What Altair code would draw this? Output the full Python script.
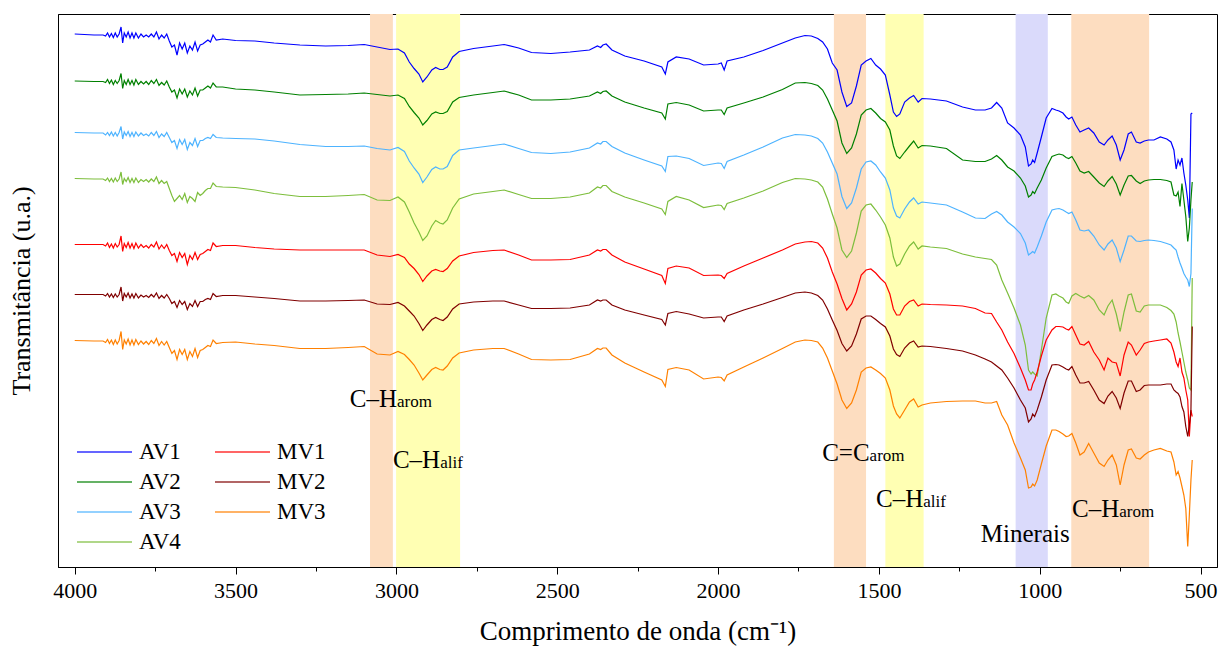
import altair as alt
import pandas as pd

# Wavenumber grid (cm-1) shared by every spectrum
WAVENUMBER = [
    4000, 3940, 3912,
    3904, 3898, 3892, 3886, 3880, 3874, 3868, 3862, 3856, 3851, 3846, 3840, 3834, 3828,
    3822, 3816, 3810, 3802, 3794, 3786, 3778, 3770, 3762, 3754, 3746, 3738, 3730, 3722,
    3714, 3706, 3698, 3690, 3682, 3674, 3666, 3658, 3650, 3642, 3634, 3626, 3618, 3610,
    3602, 3594, 3586, 3578, 3570, 3560, 3540,
    3500, 3440, 3380, 3300, 3220, 3150, 3100, 3060, 3020, 2995,
    2975, 2960, 2945, 2930, 2918, 2905, 2890, 2878, 2865, 2855, 2842, 2825, 2805,
    2760, 2700, 2665, 2620, 2580, 2520, 2460, 2400, 2375, 2365, 2358, 2348, 2330, 2290,
    2230, 2175, 2164, 2156, 2130, 2090, 2045, 2000, 1990, 1981, 1972, 1920, 1860, 1800, 1760,
    1730, 1710, 1690, 1675, 1660, 1645, 1630, 1615, 1600, 1585, 1570, 1555, 1540, 1525,
    1510, 1495, 1480, 1466, 1455, 1445, 1435, 1420, 1405, 1392, 1378, 1366, 1340,
    1290, 1240, 1200, 1170, 1150, 1134, 1118, 1100, 1080, 1060, 1045, 1035, 1027, 1022,
    1016, 1008, 995, 980, 962, 950, 940, 928, 918, 910, 900, 888, 875, 862, 848, 832, 815,
    800, 788, 775, 762, 750, 738, 725, 715, 700, 688, 675, 662, 645, 625, 605, 592, 583,
    576, 570, 564, 558, 552, 546, 540, 535, 530, 526,
]

# Stacked transmittance spectra (u.a., vertically offset)
AV1 = [
    566, 565, 565,
    564, 567, 563, 566.5, 562.5, 567, 563, 566, 573, 557, 567, 563, 568, 562, 567, 562, 567, 562,
    566, 563, 565, 563, 566, 563, 568, 561, 565, 562,
    566, 559, 553, 555, 545, 557, 551, 557, 547, 554, 550, 558, 549, 555, 556, 558, 560, 558, 565, 560, 561,
    559.5, 559, 557, 555, 554, 554.5, 555.5, 553, 550.5, 551,
    547, 538, 531.5, 526, 518, 523, 530, 532.5, 530.5, 530.5, 533, 543, 548.5,
    551.5, 554, 555.5, 552, 547.5, 546.5, 548, 550, 554, 552.5, 555, 556, 550, 544, 539, 533, 526, 538,
    543, 541, 535, 536, 537, 530, 539, 543, 549.5, 557, 562,
    564.5, 564, 561.5, 558, 551, 537, 530, 508, 493.5, 497, 514, 535, 539, 541.5, 535, 531, 525, 505,
    488, 483.5, 486, 498, 502, 504.5, 498, 501.5, 501,
    499, 493, 490, 490, 492, 497.5, 492, 477, 472, 465, 453, 434, 436, 440, 437.5, 447, 463, 482,
    491.5, 490, 489, 487, 483, 481, 483, 475, 468, 470, 472, 467, 458, 455, 460, 464, 455, 440, 450,
    466, 468, 458, 457, 459, 460, 460, 463, 461, 458, 450, 431, 440, 435, 442, 427, 415, 400, 382,
    486, 487,
]
AV2 = [
    519, 518.5, 518.5,
    517.5, 520.5, 516.5, 520, 515.5, 519.5, 516.5, 519.5, 526.5, 511.5, 519.5, 515.5, 520.5, 515.5,
    519.5, 515, 520.5, 515.5, 518.5, 516, 518.5, 515.5, 519.5, 516.5, 520.5, 514.5, 517.5, 515,
    519, 513, 508, 510, 502, 511, 506, 511, 503, 509, 505, 512, 504, 510, 510, 512, 514, 512, 517, 513, 513,
    511, 510, 508, 505, 505.5, 506, 507, 505.5, 504, 505,
    501.5, 493.5, 487.5, 482, 475, 479.5, 486, 488, 486.5, 486.5, 488.5, 498, 502.5,
    505, 507.5, 509, 505, 500, 500, 501, 504, 508, 506.5, 508.5, 509, 504, 498, 492, 487, 481, 496,
    497.5, 495, 489, 490, 490, 485.5, 492, 497, 503, 510.5, 517,
    517.5, 516.5, 514.5, 510, 501, 490, 479, 457, 446.5, 452, 466, 485, 490, 491.5, 487, 481.5, 478,
    470, 454, 444, 441.5, 448, 454, 459, 452, 454.5, 454,
    451.5, 440, 438.5, 438.5, 441, 444.5, 440, 433, 429, 422, 414, 403, 405, 408.5, 406.5, 412, 420,
    432, 443.5, 445, 446, 445, 442.5, 441.5, 443.5, 437, 429, 427, 428.5, 423, 417, 413.5, 419, 423.5,
    416, 405, 415, 424, 424.5, 419, 416.5, 419, 420, 420.5, 420.5, 419.5, 418, 405, 404, 408, 393.5,
    416.5, 400, 383.5, 358.5, 372, 400, 418,
]
AV3 = [
    467.5, 467, 467,
    465, 467.5, 464.5, 468, 464, 467.5, 464, 467.5, 473.5, 461, 468, 464.5, 468.5, 463.5, 467.5,
    463.5, 468, 464, 467, 464.5, 466, 464, 467.5, 464.5, 468.5, 462.5, 466, 463.5,
    467.5, 462.5, 457.5, 459.5, 451.5, 460.5, 455.5, 460.5, 450.5, 457.5, 454.5, 461.5, 453.5, 459.5,
    459.5, 461.5, 462.5, 461.5, 465.5, 462.5, 462,
    461.5, 461, 459, 455.5, 453.5, 453.5, 454, 451.5, 450, 452.5,
    448.5, 439, 432, 426, 417.5, 423, 430.5, 433, 431, 431, 433.5, 444.5, 450,
    452, 454.5, 456, 451.5, 447.5, 446.5, 448, 452, 457, 456, 458.5, 458.5, 453.5, 447, 440, 434,
    428.5, 443.5, 444, 441.5, 434.5, 437, 436.5, 431.5, 438.5, 445, 453, 462, 465.5,
    465, 464, 461.5, 457, 448, 437, 426, 403.5, 391.5, 397, 412, 431, 438, 439, 435, 428, 422, 410,
    392, 384, 382, 391, 398, 402, 396, 398, 397,
    395, 388, 382, 381.5, 386, 388.5, 385, 378, 373, 366.5, 357, 345, 347, 348.5, 347, 353, 364, 378,
    390, 391, 391.5, 390, 388, 386.5, 388, 380, 370, 369, 370, 364, 355, 350, 356, 360, 352, 338.5,
    350, 364, 364, 359, 358.5, 359.5, 360, 359.5, 358.5, 356.5, 355, 352, 350, 343, 337, 332, 326.5,
    323, 320, 313.5, 326.5, 391.5,
]
AV4 = [
    421.5, 421, 421,
    419.5, 422, 418.5, 421.5, 418, 422, 418.5, 421, 428, 415.5, 421.5, 418.5, 422.5, 417.5, 421.5,
    417.5, 422, 417.5, 420.5, 418.5, 420.5, 418, 421, 418.5, 423, 416.5, 419.5, 416.5,
    418.5, 411.5, 404.5, 398.5, 401.5, 404.5, 400.5, 406.5, 397.5, 403.5, 401.5, 398.5, 407.5, 404.5,
    406.5, 409.5, 411.5, 411.5, 417, 413.5, 413,
    412.5, 410, 406.5, 403.5, 403.5, 404.5, 405.5, 400, 399.5, 403,
    398, 388, 377, 368, 359.5, 364, 374, 379.5, 377, 376, 380, 392, 401,
    406, 408.5, 410, 405.5, 401.5, 401.5, 403, 407, 413, 412, 414.5, 414.5, 408.5, 403, 397, 391,
    385.5, 398.5, 403.5, 400, 392.5, 395, 394.5, 390.5, 396.5, 402, 409, 417.5, 421.5,
    421, 420, 418, 413, 401, 386, 372, 350, 342.5, 349, 367, 389, 395, 396, 390, 383, 375, 362,
    343, 334, 336, 346, 354, 358, 351, 354, 353,
    351.5, 346, 343, 341.5, 340.5, 335, 320, 307, 292, 275, 255, 230, 226, 228, 226, 224, 250, 282,
    305, 306, 304, 302, 298, 296.5, 304, 306.5, 304, 302, 304.5, 300, 290, 285, 294, 300, 286, 268.5,
    288, 305, 306, 289, 288, 294, 295, 295, 295, 292.5, 289.5, 286, 278, 267, 258, 248, 238, 228,
    220, 212, 210, 322,
]
MV1 = [
    355.5, 355.5, 355.5,
    354, 357, 352.5, 356, 352, 356.5, 353, 355.5, 364, 348.5, 356.5, 352.5, 357.5, 352, 356.5, 351.5,
    357, 352, 355.5, 352.5, 354.5, 352, 355.5, 353, 358, 351, 355, 351.5,
    355.5, 349.5, 344.5, 346.5, 338.5, 347.5, 342.5, 346.5, 335.5, 344.5, 340.5, 347.5, 340.5, 345.5,
    346.5, 348.5, 350.5, 349.5, 357, 353.5, 354.5,
    354.5, 352.5, 351, 350, 350, 350, 350, 345, 343.5, 345.5,
    342.5, 336, 331.5, 325.5, 318.5, 324, 329, 330.5, 329, 328.5, 331.5, 339, 344,
    347.5, 349.5, 350, 345, 340, 340, 340.5, 345, 350, 349, 350.5, 350.5, 345, 338, 331, 324.5,
    316.5, 331.5, 334, 332, 324.5, 325, 324.5, 321.5, 326.5, 334, 342, 350, 356,
    358, 358.5, 357, 352, 342, 328, 316, 301.5, 290, 296, 308, 325, 330, 331, 327, 321.5, 317, 306,
    291, 285, 285, 294, 298.5, 300, 294, 296, 295.5,
    295, 294, 291.5, 287, 286.5, 278, 270, 258, 246.5, 232, 220, 210, 210, 216, 220, 228, 244, 260,
    270, 273.5, 273.5, 273, 271, 270, 273.5, 265, 256, 255, 258.5, 248, 240, 230, 242, 238, 237, 224,
    245, 258, 255, 245, 250, 256.5, 258, 259, 260, 261, 257, 248, 238, 233.5, 242, 228, 222, 210,
    200, 163.5, 190, 183.5,
]
MV2 = [
    305.5, 305.5, 305.5,
    304, 306.5, 303, 306, 302.5, 306, 303, 305.5, 313, 299, 306.5, 303, 307, 302, 306, 302, 306.5,
    302, 305, 303, 304.5, 302.5, 305.5, 303, 307, 301.5, 304.5, 302,
    305.5, 301.5, 296.5, 298.5, 292.5, 299.5, 295.5, 298.5, 290.5, 296.5, 293.5, 299.5, 293.5, 298.5,
    298.5, 300.5, 301.5, 300.5, 306.5, 303.5, 304.5,
    304.5, 303, 301.5, 299, 299, 299.5, 300, 296, 295.5, 297.5,
    294, 289, 284, 276.5, 269.5, 275, 280.5, 282.5, 280.5, 279.5, 283, 291, 296,
    298, 299, 299, 295, 291.5, 291.5, 292, 295, 300, 299, 300, 300, 295, 290, 285, 280.5, 275, 286.5,
    288.5, 286, 282, 283, 283, 278.5, 284, 290, 296, 302.5, 307,
    308, 307, 304.5, 300, 291, 280, 269.5, 256.5, 249, 254, 266, 281, 284, 284, 280.5, 276.5, 273,
    264, 251, 245.5, 243.5, 252, 257, 259, 253, 254, 253.5,
    251.5, 249, 245, 241, 238, 234, 230, 222, 212, 200, 192, 178, 181, 186, 183.5, 190, 203, 220,
    235, 235.5, 235, 233, 231, 230, 233.5, 225, 217, 217, 218.5, 210, 200, 196.5, 204, 208.5, 202,
    191.5, 207, 219, 219, 208.5, 210, 214.5, 215, 215, 215, 216, 216, 210, 208, 206.5, 203, 193.5,
    188, 173.5, 163.5, 175, 190, 273.5,
]
MV3 = [
    259.5, 259, 259,
    257.5, 260.5, 256.5, 260, 255.5, 260, 256, 259.5, 268.5, 250.5, 260, 256, 261, 255, 260, 255,
    260.5, 255.5, 259, 256, 258.5, 255.5, 259.5, 256.5, 261.5, 254.5, 258.5, 255,
    258.5, 252.5, 246.5, 249.5, 240.5, 250.5, 245.5, 250.5, 240.5, 248.5, 243.5, 251.5, 242.5, 249.5,
    250.5, 252.5, 254.5, 253.5, 260, 256.5, 257.5,
    258, 256, 254.5, 251.5, 251.5, 252.5, 253.5, 246, 245, 248.5,
    245.5, 240.5, 235, 227, 220, 225, 230.5, 232.5, 230.5, 230, 234, 242, 247,
    250, 251.5, 251.5, 246, 240.5, 240, 240.5, 246, 251.5, 250.5, 252, 252, 245, 237, 228, 220,
    213.5, 230.5, 232.5, 230, 221, 223, 222.5, 219, 225, 233, 242, 251.5, 258,
    260, 259.5, 258, 252, 242, 229, 216, 200, 191.5, 197, 210, 228, 232, 233, 230, 226.5, 222, 210,
    194, 186, 182, 190, 198, 201, 193, 195, 197,
    198.5, 199, 199, 197, 197, 198.5, 185, 175, 157, 142, 130, 112, 113, 116, 114, 120, 136, 154,
    170, 170, 168.5, 166, 163.5, 164, 166.5, 157, 145, 148, 156.5, 147, 137, 133.5, 140, 145, 135,
    115, 135, 150, 151, 142, 141, 145, 148, 150, 151.5, 149, 148, 138, 125, 128.5, 122, 113.5, 105,
    91.5, 53.5, 85, 120, 140,
]

SERIES = ["AV1", "AV2", "AV3", "AV4", "MV1", "MV2", "MV3"]
SPECTRA = [AV1, AV2, AV3, AV4, MV1, MV2, MV3]
LINE_COLORS = ["#0000FF", "#008000", "#4DB3FF", "#7DBE3C", "#FF0000", "#800000", "#FF8000"]

# Highlighted absorption regions (cm-1)
BAND_START = [3082, 3001, 1640, 1480, 1075, 902]
BAND_END = [3011, 2802, 1540, 1361, 975, 660]
BAND_KIND = ["arom", "alif", "arom", "alif", "min", "arom"]
BAND_KINDS = ["arom", "alif", "min"]
BAND_COLORS = ["#FDDDC0", "#FFFFB3", "#DADAFB"]

# Band annotations: main text + smaller suffix, anchored where the two meet
NOTE_WN = [2998, 2864, 1529, 1362, 907, 753]
NOTE_V = [193, 132, 139, 93, 58, 83]
NOTE_MAIN = ["C\u2013H", "C\u2013H", "C=C", "C\u2013H", "Minerais", "C\u2013H"]
NOTE_SUB = ["arom", "alif", "arom", "alif", "", "arom"]

TICK_VALUES = [4000, 3750, 3500, 3250, 3000, 2750, 2500, 2250, 2000, 1750, 1500, 1250, 1000, 750, 500]

for s in SPECTRA:
    assert len(s) == len(WAVENUMBER)

FONT = "Liberation Serif"

spectra = pd.DataFrame(
    [
        {"wn": w, "v": v, "amostra": name}
        for name, values in zip(SERIES, SPECTRA)
        for w, v in zip(WAVENUMBER, values)
    ]
)
bands = pd.DataFrame({"start": BAND_START, "end": BAND_END, "kind": BAND_KIND})
notes = pd.DataFrame({"wn": NOTE_WN, "v": NOTE_V, "main": NOTE_MAIN, "sub": NOTE_SUB})

x_scale = alt.Scale(domain=[4052, 449], nice=False, zero=False)
y_scale = alt.Scale(domain=[33, 586], nice=False, zero=False)

x_axis = alt.Axis(
    values=TICK_VALUES,
    labelExpr="datum.value % 500 == 0 ? datum.label : ''",
    format="d",
    tickSize={"condition": {"test": "datum.value % 500 != 0", "value": 4}, "value": 7},
    tickColor="black",
    domainColor="black",
    labelFont=FONT,
    labelFontSize=22,
    labelColor="black",
    labelPadding=6,
    labelFlush=False,
    grid=False,
    title="Comprimento de onda (cm\u207B\u00B9)",
    titleFont=FONT,
    titleFontSize=27,
    titleFontWeight="normal",
    titleColor="black",
    titlePadding=17,
)
y_axis = alt.Axis(
    labels=False,
    ticks=False,
    grid=False,
    domainColor="black",
    title="Transmitância (u.a.)",
    titleFont=FONT,
    titleFontSize=26,
    titleFontWeight="normal",
    titleColor="black",
    titlePadding=24,
)

band_layer = alt.Chart(bands).mark_rect().encode(
    x=alt.X("start:Q", scale=x_scale, axis=x_axis),
    x2="end:Q",
    fill=alt.Fill("kind:N", scale=alt.Scale(domain=BAND_KINDS, range=BAND_COLORS), legend=None),
)

line_layer = alt.Chart(spectra).mark_line(strokeWidth=1.2).encode(
    x=alt.X("wn:Q", scale=x_scale, axis=x_axis),
    y=alt.Y("v:Q", scale=y_scale, axis=y_axis),
    stroke=alt.Stroke(
        "amostra:N",
        scale=alt.Scale(domain=SERIES, range=LINE_COLORS),
        legend=alt.Legend(
            orient="none",
            legendX=18,
            legendY=423,
            columns=2,
            title=None,
            padding=0,
            symbolType="stroke",
            symbolSize=3025,
            symbolStrokeWidth=1.8,
            symbolOpacity=0.6,
            clipHeight=30,
            rowPadding=0,
            columnPadding=33,
            labelOffset=6,
            labelFont=FONT,
            labelFontSize=23,
            labelColor="black",
        ),
    ),
    detail="amostra:N",
)

main_text = alt.Chart(notes).mark_text(
    align="right", baseline="alphabetic", font=FONT, fontSize=25, color="black"
).encode(x=alt.X("wn:Q", scale=x_scale), y=alt.Y("v:Q", scale=y_scale), text="main:N")

sub_text = alt.Chart(notes).mark_text(
    align="left", baseline="alphabetic", font=FONT, fontSize=17, color="black"
).encode(x=alt.X("wn:Q", scale=x_scale), y=alt.Y("v:Q", scale=y_scale), text="sub:N")

chart = (
    alt.layer(band_layer, line_layer, main_text, sub_text)
    .properties(
        width=1159,
        height=553,
        autosize=alt.AutoSizeParams(type="none"),
        padding={"left": 58, "top": 14, "right": 5, "bottom": 90},
        background="white",
    )
    .configure_view(stroke="black", strokeWidth=1)
)

chart.save("out.html", embed_options={"renderer": "svg", "actions": False})
